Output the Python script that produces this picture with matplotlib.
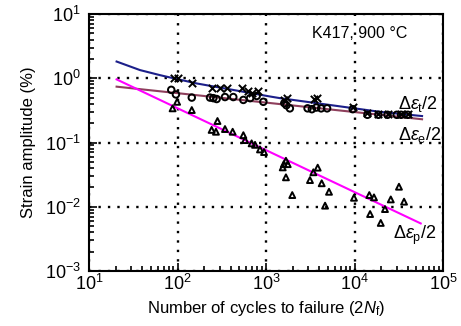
import numpy as np
import matplotlib
matplotlib.use("Agg")
import matplotlib.pyplot as plt

plt.rcParams['font.family'] = ['Liberation Sans', 'DejaVu Sans']
plt.rcParams['mathtext.fontset'] = 'custom'
plt.rcParams['mathtext.rm'] = 'Liberation Sans'
plt.rcParams['mathtext.it'] = 'Liberation Sans:italic'
plt.rcParams['mathtext.default'] = 'regular'

# measured points (2Nf, strain amplitude %)
total_n = [91, 100, 145, 243, 302, 360, 531, 631, 818, 700, 1600, 1710,
           3500, 3740, 9550, 14000, 18600, 23600, 33600, 40000]
total_s = [1.0, 1.0, 0.83, 0.70, 0.70, 0.70, 0.70, 0.63, 0.63, 0.60, 0.46, 0.49,
           0.48, 0.50, 0.36, 0.29, 0.28, 0.28, 0.28, 0.28]

elastic_n = [85, 96, 145, 233, 254, 277, 344, 427, 555, 661, 785, 933,
             1610, 1700, 1860, 2950, 3300, 3700, 4200, 4900, 9550,
             14000, 18600, 23600, 30000, 33600, 40000]
elastic_s = [0.66, 0.56, 0.50, 0.50, 0.49, 0.475, 0.51, 0.51, 0.46, 0.49, 0.53, 0.43,
             0.41, 0.38, 0.34, 0.34, 0.33, 0.35, 0.34, 0.34, 0.33,
             0.27, 0.27, 0.27, 0.27, 0.27, 0.27]

plastic_n = [88, 99, 145, 243, 272, 283, 344, 420, 555, 580, 688, 752, 855, 950,
             1545, 1590, 1680, 1760, 1680, 1980, 3140, 3430, 3840, 4260, 4650, 5150,
             9860, 14700, 15000, 16600, 19800, 22100, 25700, 31800, 36300]
plastic_s = [0.34, 0.43, 0.32, 0.157, 0.147, 0.216, 0.162, 0.147, 0.13, 0.109, 0.097, 0.092, 0.078, 0.071,
             0.041, 0.046, 0.052, 0.046, 0.0287, 0.0152, 0.026, 0.0344, 0.0406, 0.0232, 0.0104, 0.0171,
             0.0138, 0.0152, 0.0077, 0.014, 0.0056, 0.0092, 0.013, 0.0205, 0.012]

# fitted lines
fit_total_n = [20.5, 37.7, 63, 82, 165, 1110, 1440, 19400, 58000]
fit_total_s = [1.82, 1.34, 1.12, 1.03, 0.83, 0.52, 0.49, 0.30, 0.258]
fit_elastic_n = [20.5, 58000]
fit_elastic_s = [0.74, 0.23]
fit_plastic_n = [20.5, 56000]
fit_plastic_s = [0.96, 0.0055]

fig = plt.figure(figsize=(4.61, 3.26), dpi=100)
ax = fig.add_axes([89/461, 1-271/326, 354/461, 257/326])

ax.plot(fit_total_n, fit_total_s, color='#1c1f8a', lw=1.5, zorder=3)
ax.plot(fit_elastic_n, fit_elastic_s, color='#8e3f5c', lw=1.5, zorder=3)
ax.plot(fit_plastic_n, fit_plastic_s, color='#ff00ff', lw=1.5, zorder=3)

ax.scatter(total_n, total_s, marker='x', s=28, c='black', lw=1.4, zorder=4)
ax.scatter(elastic_n, elastic_s, marker='o', s=22, facecolors='none', edgecolors='black', lw=1.4, zorder=4)
ax.scatter(plastic_n, plastic_s, marker='^', s=18, facecolors='none', edgecolors='black', lw=1.4, zorder=4)

ax.set_xscale('log')
ax.set_yscale('log')
ax.set_xlim(10, 1e5)
ax.set_ylim(1e-3, 10)

ax.grid(True, which='major', color='black', linestyle=(0, (1, 3.0)), linewidth=1.7)
ax.tick_params(which='both', direction='in', top=False, right=False, width=1.2, labelsize=13)
ax.tick_params(which='major', length=6)
ax.tick_params(which='minor', length=3.5)
ax.tick_params(axis='y', pad=6)
ax.tick_params(axis='x', pad=2)
for sp in ax.spines.values():
    sp.set_linewidth(1.5)

ax.set_xlabel(r'Number of cycles to failure (2$\mathit{N}_\mathrm{f}$)', fontsize=12, labelpad=4)
ax.set_ylabel('Strain amplitude (%)', fontsize=12, labelpad=6)

ax.text(0.63, 0.925, 'K417, 900 °C', transform=ax.transAxes, fontsize=11.5, va='center', ha='left')
ax.text(0.872, 0.65, r'$\Delta\mathit{\varepsilon}_\mathrm{t}/2$', transform=ax.transAxes, fontsize=13, va='center', ha='left')
ax.text(0.872, 0.53, r'$\Delta\mathit{\varepsilon}_\mathrm{e}/2$', transform=ax.transAxes, fontsize=13, va='center', ha='left')
ax.text(0.860, 0.14, r'$\Delta\mathit{\varepsilon}_\mathrm{p}/2$', transform=ax.transAxes, fontsize=13, va='center', ha='left')

fig.savefig('out.png', dpi=100)
